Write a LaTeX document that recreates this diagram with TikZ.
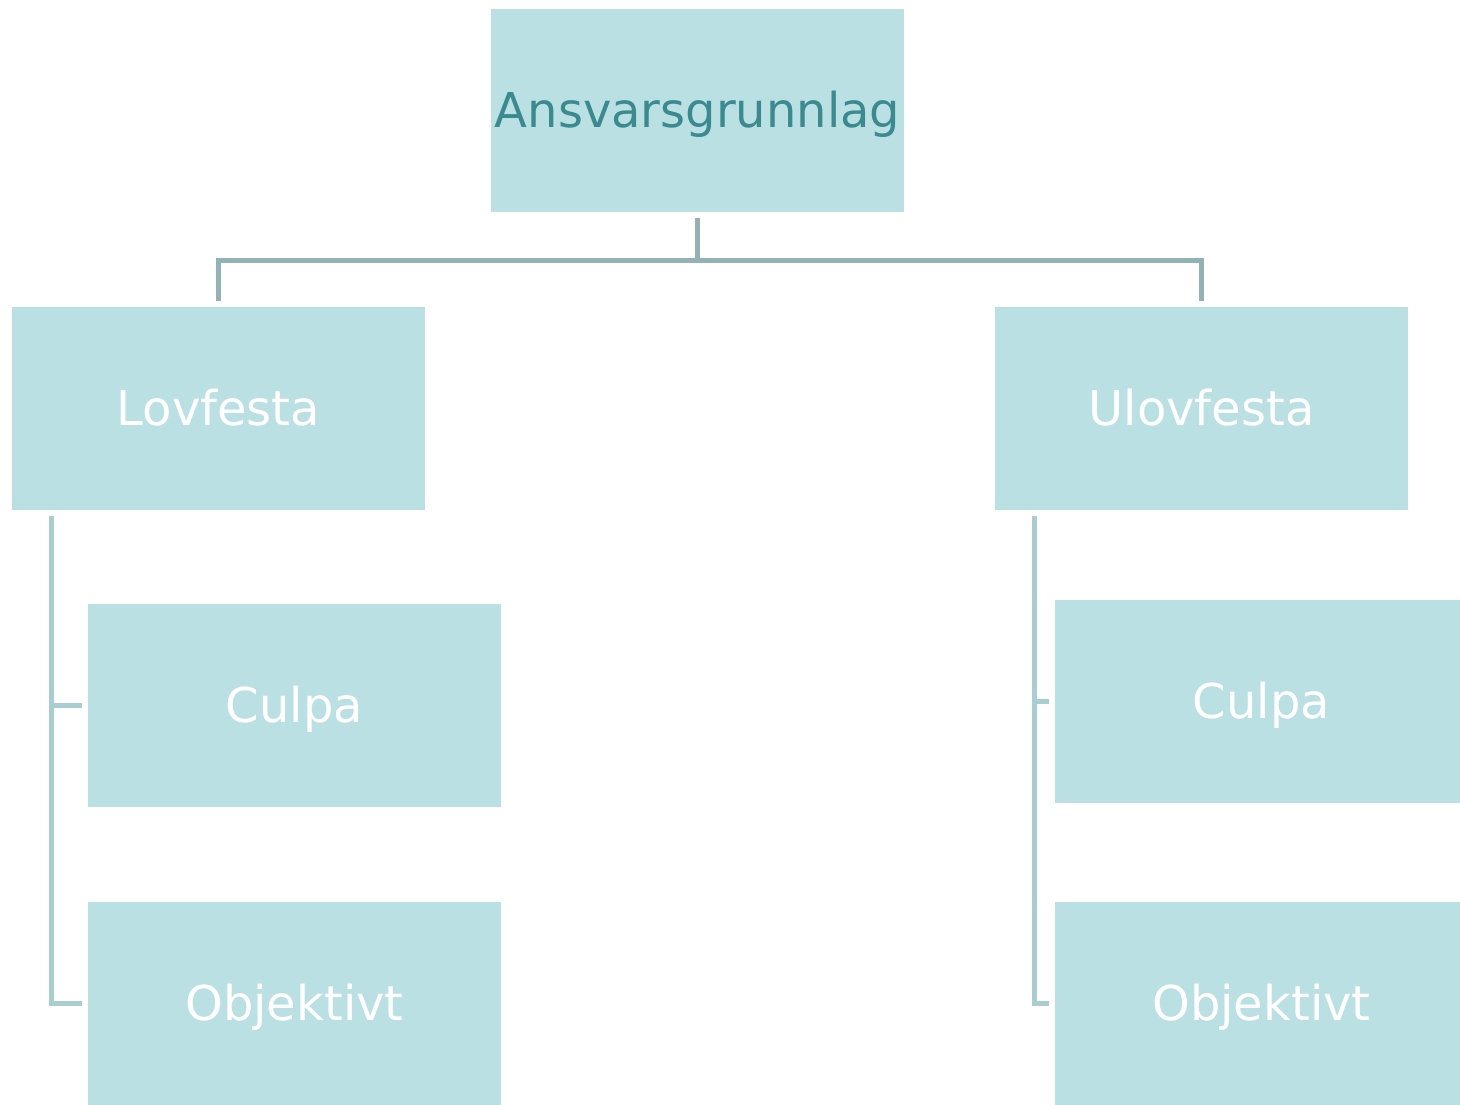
\documentclass[tikz,border=0pt]{standalone}
\usepackage{fontspec}
\setmainfont{DejaVu Sans}
\definecolor{boxfill}{HTML}{BBE0E3}
\definecolor{toptext}{HTML}{3A8A8F}
\definecolor{lineA}{HTML}{94B2B6}
\definecolor{lineB}{HTML}{A9CDD0}
\begin{document}
\begin{tikzpicture}[x=1pt,y=-1pt,
  box/.style={fill=boxfill, draw=none, minimum width=413pt, minimum height=203pt, inner sep=0pt, text height=44pt, text depth=10pt, font=\fontsize{48}{56}\selectfont, text=white},
  conA/.style={draw=lineA, line width=5pt},
  conB/.style={draw=lineB, line width=5pt}]
\useasboundingbox (0,0) rectangle (1460,1104);
\node[box, text=toptext] (root) at (697.5,110.5) {Ansvarsgrunnlag};
\node[box] (lov) at (218.5,408.5) {Lovfesta};
\node[box] (ulov) at (1201.5,408.5) {Ulovfesta};
\node[box] (lc) at (294.5,705.5) {Culpa};
\node[box] (lo) at (294.5,1003.5) {Objektivt};
\node[box] (uc) at (1261.5,701) {Culpa};
\node[box] (uo) at (1261.5,1003.5) {Objektivt};
\coordinate (hub) at (697.5,260);
\draw[conA] ([yshift=-6pt]root.south) -- (hub);
\draw[conA] (hub) -| ([yshift=6pt]lov.north);
\draw[conA] (hub) -| ([yshift=6pt]ulov.north);
\coordinate (lv) at (51,516);
\coordinate (uv) at (1034,516);
\draw[conB] (lv) |- ([xshift=-6pt]lo.west);
\draw[conB] (lv |- lc.west) -- ([xshift=-6pt]lc.west);
\draw[conB] (uv) |- ([xshift=-6pt]uo.west);
\draw[conB] (uv |- uc.west) -- ([xshift=-6pt]uc.west);
\end{tikzpicture}
\end{document}
